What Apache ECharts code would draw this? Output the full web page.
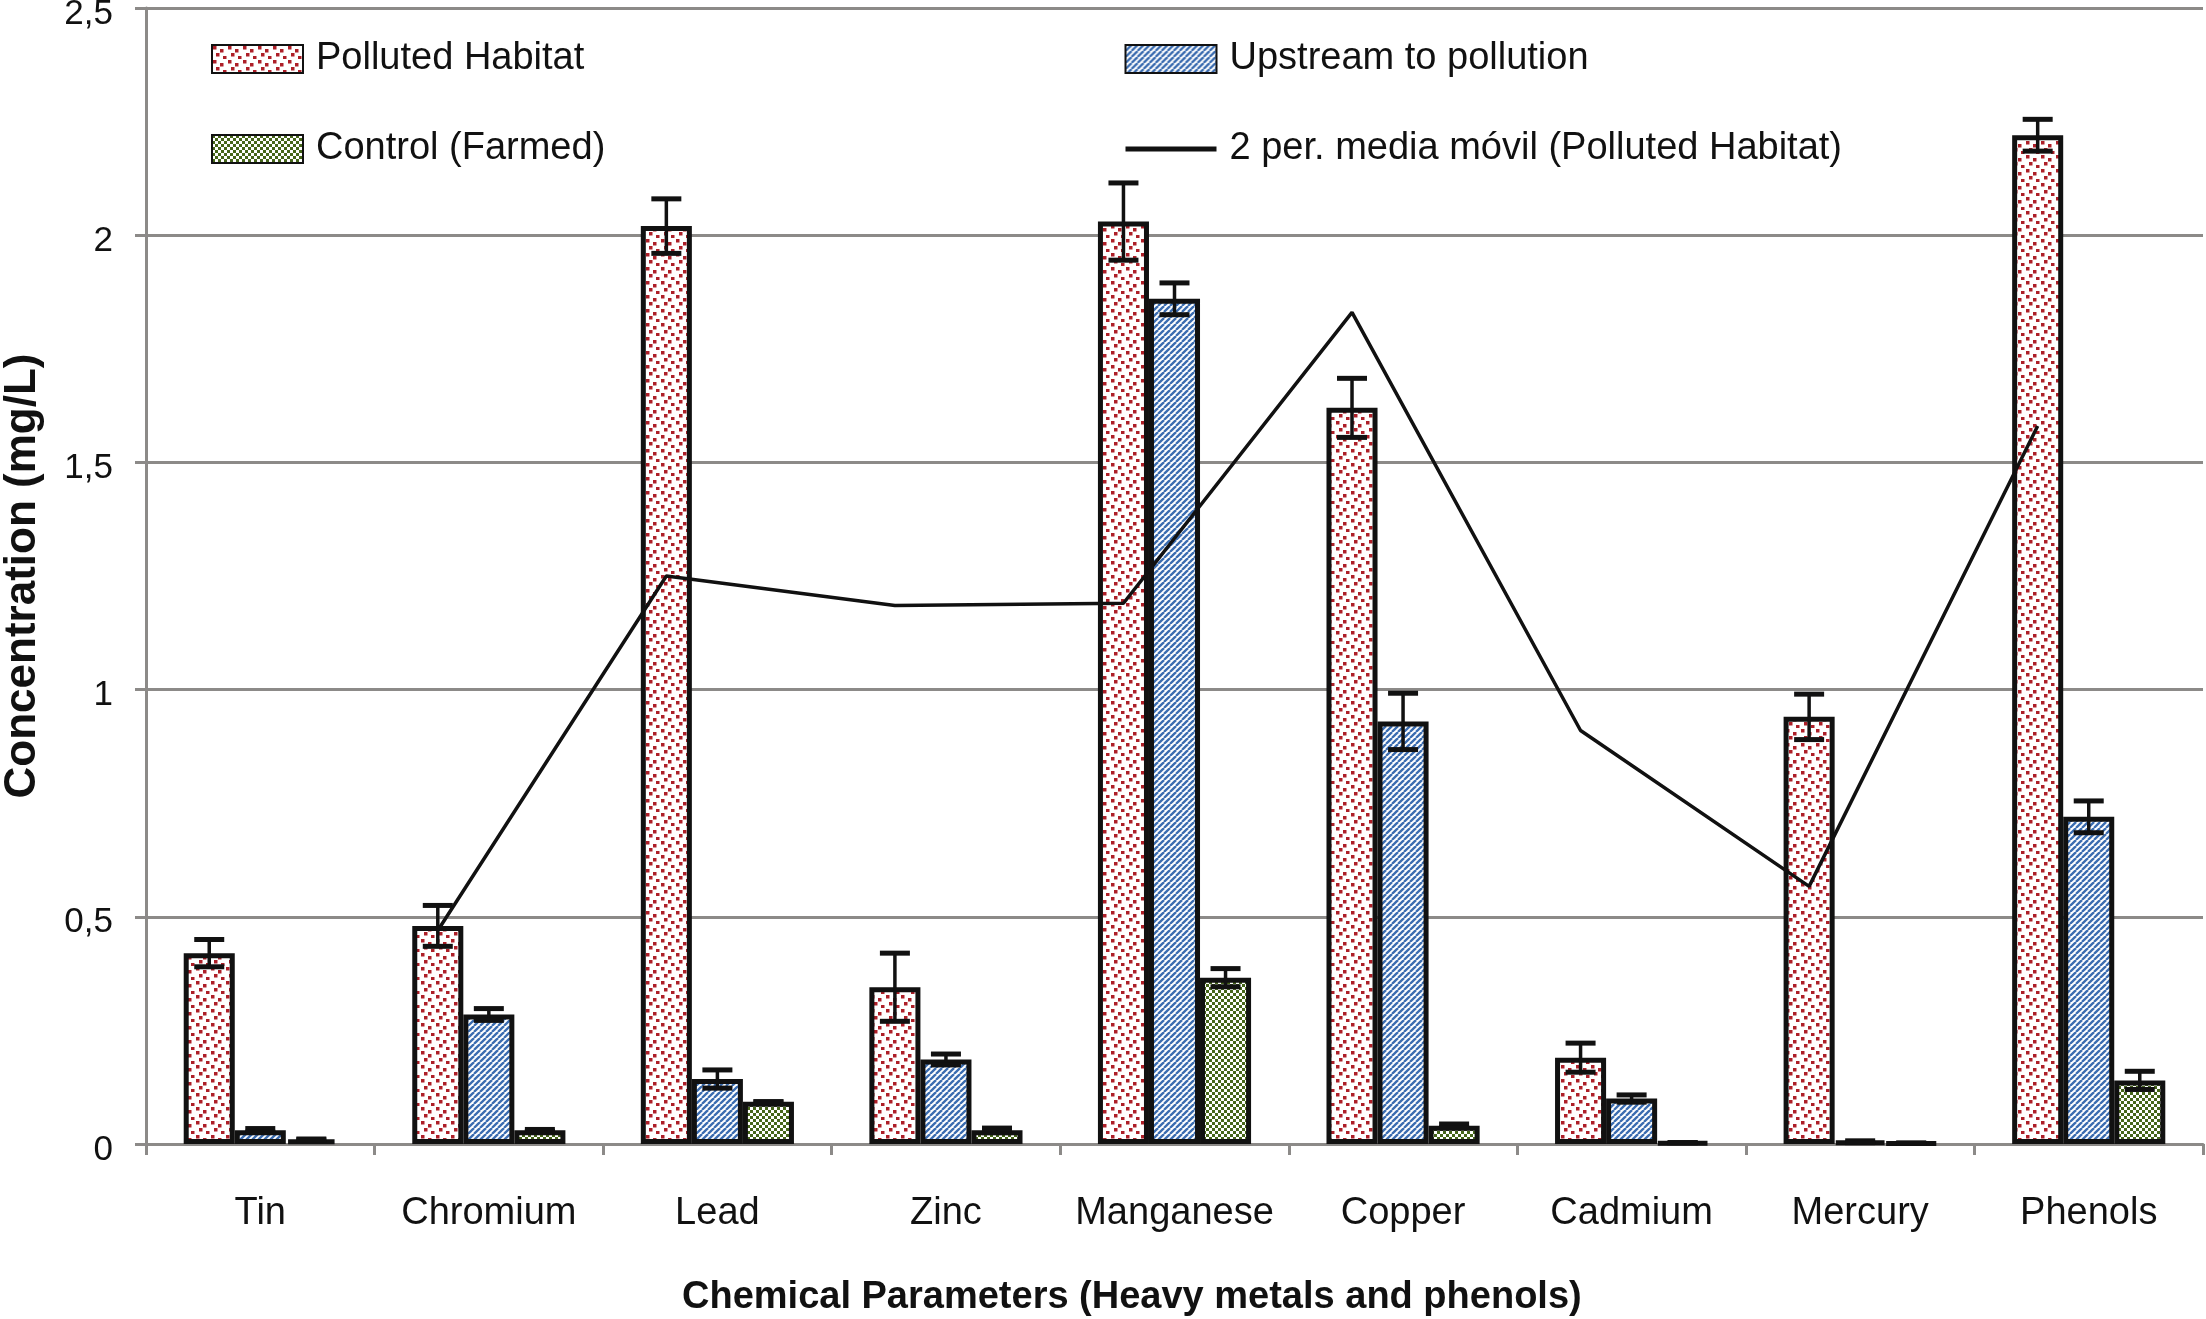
<html>
<head>
  <meta charset="utf-8">
  <title>Concentration chart</title>
</head>
<body style="margin:0;background:#fff;">
<div id="main" style="width:2206px;height:1319px;"></div>
<script src="https://cdn.jsdelivr.net/npm/echarts@6/dist/echarts.min.js"></script>
<script>
  // values
  var categories = ['Tin', 'Chromium', 'Lead', 'Zinc', 'Manganese', 'Copper', 'Cadmium', 'Mercury', 'Phenols'];
  var polluted = [0.42, 0.48, 2.02, 0.345, 2.03, 1.62, 0.19, 0.94, 2.22];
  var pollutedErr = [0.03, 0.045, 0.06, 0.075, 0.085, 0.065, 0.032, 0.05, 0.035];
  var upstream = [0.03, 0.285, 0.143, 0.186, 1.86, 0.93, 0.10, 0.005, 0.72];
  var upstreamErr = [0.004, 0.013, 0.02, 0.012, 0.035, 0.062, 0.008, 0.002, 0.035];
  var control = [0.01, 0.03, 0.093, 0.03, 0.366, 0.04, 0.003, 0.002, 0.14];
  var controlErr = [0.001, 0.002, 0, 0.005, 0.02, 0.004, 0, 0, 0.02];
  var movingAvg = [null, 0.47, 1.25, 1.185, 1.19, 1.83, 0.91, 0.567, 1.58];
  var yTicks = [0, 0.5, 1, 1.5, 2, 2.5];

  var BAR_GROUP = 0.67;               // share of a category taken by the 3 bars
  var BAR_W = BAR_GROUP / 3;          // one bar, in category units
  var SANS = "'Liberation Sans', Arial, sans-serif";
  var INK = '#111';
  var GRAY = '#8c8a88';

  function makeTile(w, h, draw) {
    var c = document.createElement('canvas');
    c.width = w; c.height = h;
    var g = c.getContext('2d');
    g.fillStyle = '#fff';
    g.fillRect(0, 0, w, h);
    draw(g);
    return c;
  }

  var dots = makeTile(15, 14, function (g) {
    g.fillStyle = '#ad1f28';
    [[1, 1], [8, 4], [4, 8], [11, 11]].forEach(function (p) { g.fillRect(p[0], p[1], 3.5, 3.5); });
  });
  var stripes = makeTile(6, 6, function (g) {
    g.strokeStyle = '#3a6cb0';
    g.lineWidth = 2.3;
    [-6, 0, 6].forEach(function (o) {
      g.beginPath();
      g.moveTo(o, 6);
      g.lineTo(o + 6, 0);
      g.stroke();
    });
  });
  var checks = makeTile(6, 6, function (g) {
    g.fillStyle = '#46661a';
    g.fillRect(0, 0, 3, 3);
    g.fillRect(3, 3, 3, 3);
  });

  function barSeries(name, data, tile) {
    return {
      name: name,
      type: 'bar',
      data: data,
      barGap: '0%',
      barCategoryGap: '33%',
      z: 2,
      itemStyle: { color: { image: tile, repeat: 'repeat' }, borderColor: INK, borderWidth: 5 },
      emphasis: { disabled: true }
    };
  }

  function errorSeries(vals, errs, slot) {
    return {
      type: 'custom',
      silent: true,
      z: 5,
      encode: { x: 0, y: 1 },
      renderItem: function (params, api) {
        var i = api.value(0), v = api.value(1), e = api.value(2);
        var catW = api.size([1, 0])[0];
        var x = api.coord([i, v])[0] + (slot - 1) * catW * BAR_W;
        var hi = api.coord([i, v + e])[1];
        var lo = api.coord([i, Math.max(v - e, 0)])[1];
        var half = 15;
        var cap = { stroke: INK, lineWidth: 5 };
        return {
          type: 'group',
          children: [
            { type: 'line', shape: { x1: x, y1: hi, x2: x, y2: lo }, style: { stroke: INK, lineWidth: 3.5 } },
            { type: 'line', shape: { x1: x - half, y1: hi, x2: x + half, y2: hi }, style: cap },
            { type: 'line', shape: { x1: x - half, y1: lo, x2: x + half, y2: lo }, style: cap }
          ]
        };
      },
      data: vals.map(function (v, i) { return [i, v, errs[i]]; })
    };
  }

  var lineData = [];
  movingAvg.forEach(function (v, i) {
    if (v !== null) lineData.push([i - BAR_W, v]);
  });

  var legendText = { fontFamily: SANS, fontSize: 38, lineHeight: 44, color: INK, padding: [0, 0, 0, 8] };

  var myChart = echarts.init(document.getElementById('main'));

  var option = {
    animation: false,
    backgroundColor: '#fff',
    title: {
      text: 'Chemical Parameters (Heavy metals and phenols)',
      left: 677,
      top: 1274,
      textStyle: { fontFamily: SANS, fontWeight: 'bold', fontSize: 38, color: INK }
    },
    grid: { left: 146, right: 3, top: 8, bottom: 175, outerBoundsMode: 'none' },
    legend: [
      {
        data: ['Polluted Habitat', 'Control (Farmed)'],
        orient: 'vertical',
        left: 211, top: 37, padding: 0,
        itemGap: 46, itemWidth: 91, itemHeight: 28,
        icon: 'rect',
        textStyle: legendText
      },
      {
        data: [
          { name: 'Upstream to pollution', icon: 'rect' },
          {
            name: '2 per. media móvil (Polluted Habitat)',
            itemStyle: { color: 'rgba(0,0,0,0)', borderColor: 'rgba(0,0,0,0)', borderWidth: 0 },
            lineStyle: { width: 5, color: INK }
          }
        ],
        orient: 'vertical',
        left: 1123, top: 37, padding: 0,
        itemGap: 46, itemWidth: 91, itemHeight: 28,
        textStyle: legendText
      }
    ],
    xAxis: [
      {
        type: 'category',
        data: categories,
        axisLine: { lineStyle: { color: GRAY, width: 3 } },
        axisTick: { show: true, length: 11, lineStyle: { color: GRAY, width: 3 } },
        axisLabel: { interval: 0, margin: 51, fontFamily: SANS, fontSize: 38, color: INK }
      },
      {
        type: 'value',
        min: -0.5, max: categories.length - 0.5,
        show: false
      }
    ],
    yAxis: {
      type: 'value',
      min: yTicks[0], max: yTicks[yTicks.length - 1], interval: 0.5,
      name: 'Concentration (mg/L)',
      nameLocation: 'middle',
      nameRotate: 90,
      nameGap: 101,
      nameTextStyle: { fontFamily: SANS, fontWeight: 'bold', fontSize: 44, color: INK },
      axisLine: { show: true, onZero: false, lineStyle: { color: GRAY, width: 3 } },
      axisTick: { show: true, length: 11, lineStyle: { color: GRAY, width: 3 } },
      splitLine: { lineStyle: { color: GRAY, width: 3 } },
      axisLabel: {
        margin: 33, fontFamily: SANS, fontSize: 35, color: INK,
        verticalAlign: 'top', lineHeight: 12,
        formatter: function (v) { return String(v).replace('.', ','); }
      }
    },
    series: [
      barSeries('Polluted Habitat', polluted, dots),
      barSeries('Upstream to pollution', upstream, stripes),
      barSeries('Control (Farmed)', control, checks),
      errorSeries(polluted, pollutedErr, 0),
      errorSeries(upstream, upstreamErr, 1),
      errorSeries(control, controlErr, 2),
      {
        name: '2 per. media móvil (Polluted Habitat)',
        type: 'line',
        xAxisIndex: 1,
        data: lineData,
        symbol: 'none',
        z: 8,
        lineStyle: { color: INK, width: 3.5 },
        itemStyle: { color: INK },
        emphasis: { disabled: true }
      }
    ]
  };

  myChart.setOption(option);
</script>
</body>
</html>
